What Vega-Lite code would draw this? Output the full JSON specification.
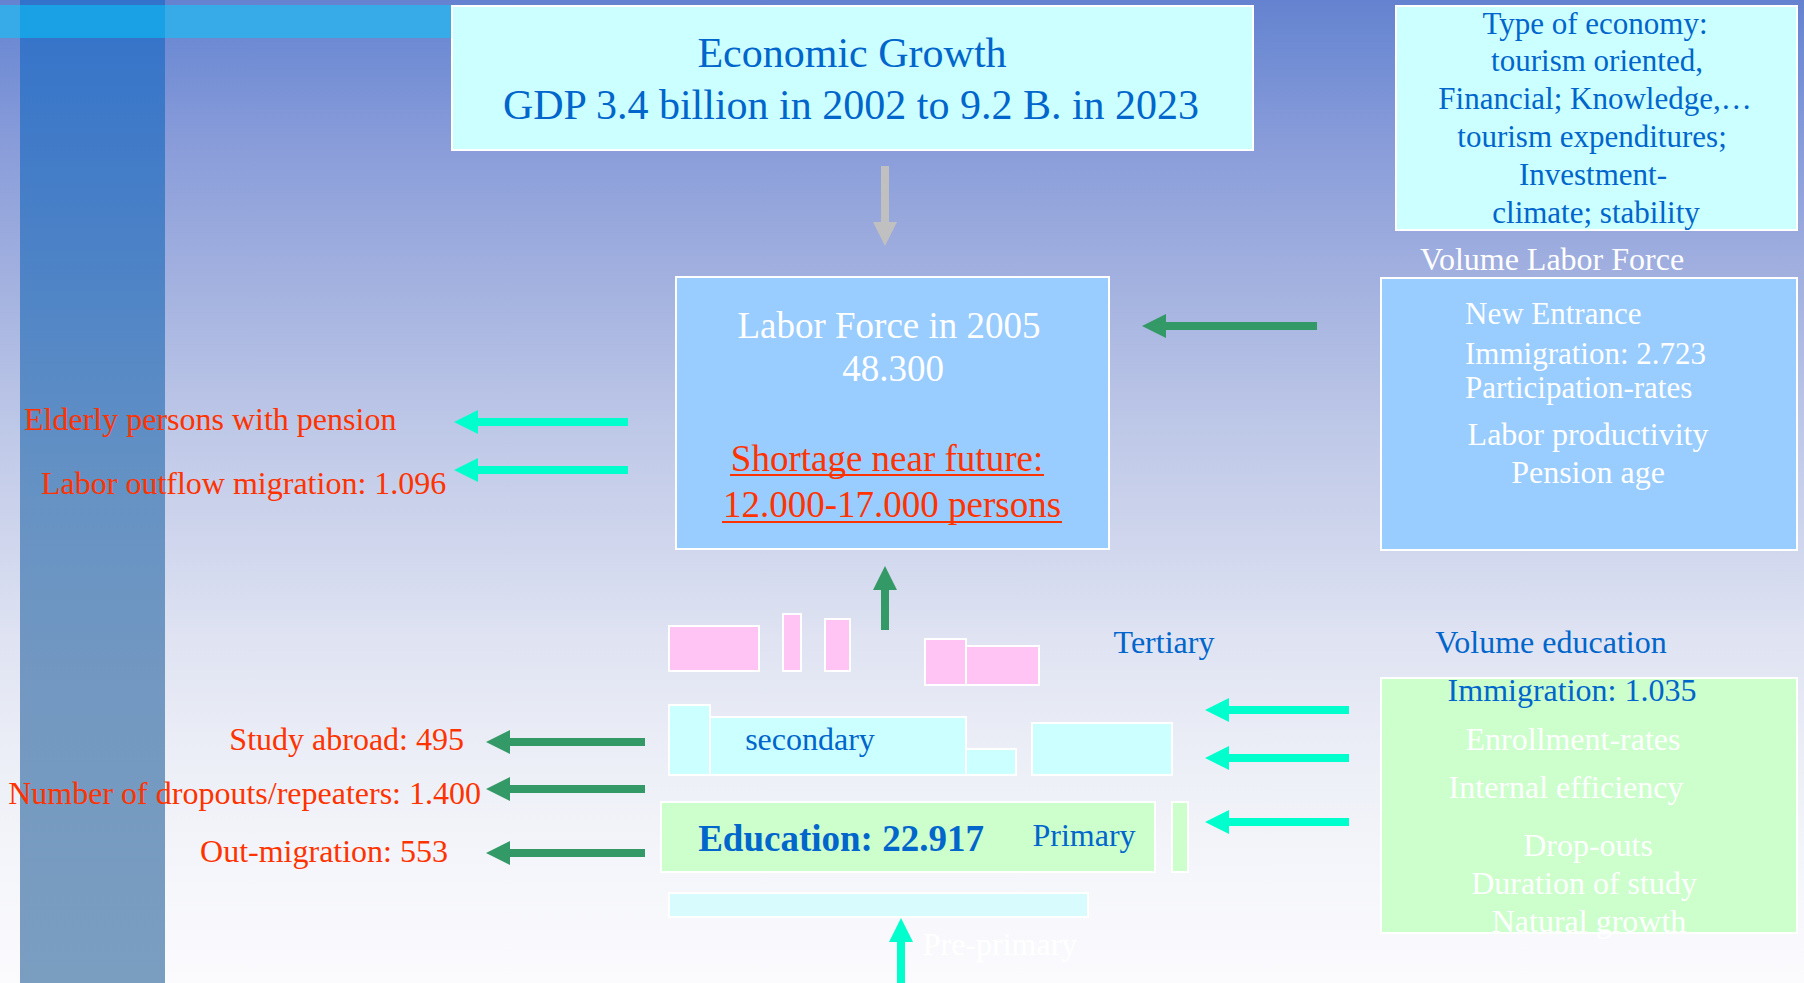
{
  "$schema": "https://vega.github.io/schema/vega-lite/v6.json",
  "width": 1804,
  "height": 983,
  "autosize": "none",
  "padding": 0,
  "background": "#ffffff",
  "config": {"view": {"stroke": null}},
  "datasets": {
    "bg": [{"x": 0, "x2": 1804, "y": 0, "y2": 983}],
    "column": [{"x": 20, "x2": 165, "y": 0, "y2": 983}],
    "band": [{"x": 0, "x2": 452, "y": 5, "y2": 38}],
    "bandcol": [{"x": 20, "x2": 165, "y": 5, "y2": 38}],
    "boxes": [
      {"x": 452, "x2": 1253, "y": 6, "y2": 150, "kind": "cyan"},
      {"x": 1396, "x2": 1797, "y": 6, "y2": 230, "kind": "cyan"},
      {"x": 676, "x2": 1109, "y": 277, "y2": 549, "kind": "blue"},
      {"x": 1381, "x2": 1797, "y": 278, "y2": 550, "kind": "blue"},
      {"x": 669, "x2": 759, "y": 626, "y2": 671, "kind": "pink"},
      {"x": 783, "x2": 801, "y": 614, "y2": 671, "kind": "pink"},
      {"x": 825, "x2": 850, "y": 619, "y2": 671, "kind": "pink"},
      {"x": 925, "x2": 966, "y": 639, "y2": 685, "kind": "pink"},
      {"x": 966, "x2": 1039, "y": 646, "y2": 685, "kind": "pink"},
      {"x": 669, "x2": 710, "y": 705, "y2": 775, "kind": "cyan"},
      {"x": 710, "x2": 966, "y": 717, "y2": 775, "kind": "cyan"},
      {"x": 966, "x2": 1016, "y": 749, "y2": 775, "kind": "cyan"},
      {"x": 1032, "x2": 1172, "y": 723, "y2": 775, "kind": "cyan"},
      {"x": 661, "x2": 1155, "y": 802, "y2": 872, "kind": "green"},
      {"x": 1172, "x2": 1188, "y": 802, "y2": 872, "kind": "green"},
      {"x": 669, "x2": 1088, "y": 893, "y2": 917, "kind": "pale"},
      {"x": 1381, "x2": 1797, "y": 678, "y2": 933, "kind": "green"}
    ],
    "harrows": [
      {"x": 1317, "x2": 1166, "y": 326, "c": "green"},
      {"x": 628, "x2": 478, "y": 422, "c": "cyan"},
      {"x": 628, "x2": 478, "y": 470, "c": "cyan"},
      {"x": 645, "x2": 510, "y": 742, "c": "green"},
      {"x": 645, "x2": 510, "y": 789, "c": "green"},
      {"x": 645, "x2": 510, "y": 853, "c": "green"},
      {"x": 1349, "x2": 1229, "y": 710, "c": "cyan"},
      {"x": 1349, "x2": 1229, "y": 758, "c": "cyan"},
      {"x": 1349, "x2": 1229, "y": 822, "c": "cyan"}
    ],
    "uarrows": [
      {"x": 885, "y": 630, "y2": 590, "c": "green"},
      {"x": 901, "y": 983, "y2": 942, "c": "cyan"}
    ],
    "darrows": [
      {"x": 885, "y": 166, "y2": 222, "c": "gray"}
    ],
    "underlines": [
      {"x": 730, "x2": 1044, "y": 475},
      {"x": 722, "x2": 1062, "y": 522}
    ],
    "texts": [
      {"text": "Economic Growth", "x": 852, "y": 54, "role": "title"},
      {"text": "GDP 3.4 billion in 2002 to 9.2 B. in 2023", "x": 851, "y": 106, "role": "title"},
      {"text": "Type of economy:", "x": 1595, "y": 25, "role": "econ"},
      {"text": "tourism oriented,", "x": 1597, "y": 62, "role": "econ"},
      {"text": "Financial; Knowledge,…", "x": 1595, "y": 100, "role": "econ"},
      {"text": "tourism expenditures;", "x": 1592, "y": 138, "role": "econ"},
      {"text": "Investment-", "x": 1593, "y": 176, "role": "econ"},
      {"text": "climate; stability", "x": 1596, "y": 214, "role": "econ"},
      {"text": "Volume Labor Force", "x": 1552, "y": 260, "role": "whiteC"},
      {"text": "Labor productivity", "x": 1588, "y": 435, "role": "whiteC"},
      {"text": "Pension age", "x": 1588, "y": 473, "role": "whiteC"},
      {"text": "Enrollment-rates", "x": 1573, "y": 740, "role": "whiteC"},
      {"text": "Internal efficiency", "x": 1566, "y": 788, "role": "whiteC"},
      {"text": "Drop-outs", "x": 1588, "y": 846, "role": "whiteC"},
      {"text": "Duration of study", "x": 1584, "y": 884, "role": "whiteC"},
      {"text": "Natural growth", "x": 1589, "y": 922, "role": "whiteC"},
      {"text": "Pre-primary", "x": 1000, "y": 945, "role": "whiteC"},
      {"text": "New Entrance", "x": 1465, "y": 315, "role": "whiteL"},
      {"text": "Immigration: 2.723", "x": 1465, "y": 355, "role": "whiteL"},
      {"text": "Participation-rates", "x": 1465, "y": 389, "role": "whiteL"},
      {"text": "Labor Force in 2005", "x": 889, "y": 327, "role": "lf"},
      {"text": "48.300", "x": 893, "y": 370, "role": "lf"},
      {"text": "Shortage near future:", "x": 887, "y": 460, "role": "short"},
      {"text": "12.000-17.000 persons", "x": 892, "y": 506, "role": "short"},
      {"text": "Elderly persons with pension", "x": 24, "y": 420, "role": "redL"},
      {"text": "Labor outflow migration: 1.096", "x": 41, "y": 484, "role": "redL"},
      {"text": "Study abroad: 495", "x": 464, "y": 740, "role": "redR"},
      {"text": "Number of dropouts/repeaters: 1.400", "x": 481, "y": 794, "role": "redR"},
      {"text": "Out-migration: 553", "x": 448, "y": 852, "role": "redR"},
      {"text": "secondary", "x": 810, "y": 740, "role": "blueC"},
      {"text": "Tertiary", "x": 1164, "y": 643, "role": "blueC"},
      {"text": "Primary", "x": 1084, "y": 836, "role": "blueC"},
      {"text": "Volume education", "x": 1551, "y": 643, "role": "blueC"},
      {"text": "Immigration: 1.035", "x": 1572, "y": 691, "role": "blueC"},
      {"text": "Education: 22.917", "x": 841, "y": 840, "role": "edu"}
    ]
  },
  "encoding": {
    "x": {"field": "x", "type": "quantitative", "scale": {"domain": [0, 1804], "nice": false, "zero": false}, "axis": null},
    "y": {"field": "y", "type": "quantitative", "scale": {"domain": [0, 983], "reverse": true, "nice": false, "zero": false}, "axis": null}
  },
  "layer": [
    {
      "data": {"name": "bg"},
      "mark": {"type": "rect", "fill": {"gradient": "linear", "x1": 0, "y1": 0, "x2": 0, "y2": 1, "stops": [
        {"offset": 0, "color": "#6482cf"},
        {"offset": 0.04, "color": "#6d8ad3"},
        {"offset": 0.15, "color": "#8a9dda"},
        {"offset": 0.3, "color": "#a5b3e0"},
        {"offset": 0.43, "color": "#bdc7e7"},
        {"offset": 0.55, "color": "#cfd6ed"},
        {"offset": 0.65, "color": "#dfe3f2"},
        {"offset": 0.75, "color": "#eaedf6"},
        {"offset": 0.87, "color": "#f4f5fa"},
        {"offset": 1, "color": "#fbfbfe"}
      ]}},
      "encoding": {"x2": {"field": "x2"}, "y2": {"field": "y2"}}
    },
    {
      "data": {"name": "column"},
      "mark": {"type": "rect", "fill": {"gradient": "linear", "x1": 0, "y1": 0, "x2": 0, "y2": 1, "stops": [
        {"offset": 0, "color": "#3372ca"},
        {"offset": 0.3, "color": "#5085c6"},
        {"offset": 0.5, "color": "#6592c4"},
        {"offset": 0.7, "color": "#7398c1"},
        {"offset": 1, "color": "#7a9ec0"}
      ]}},
      "encoding": {"x2": {"field": "x2"}, "y2": {"field": "y2"}}
    },
    {
      "data": {"name": "band"},
      "mark": {"type": "rect", "fill": "#37aae8"},
      "encoding": {"x2": {"field": "x2"}, "y2": {"field": "y2"}}
    },
    {
      "data": {"name": "bandcol"},
      "mark": {"type": "rect", "fill": "#1aa0e4"},
      "encoding": {"x2": {"field": "x2"}, "y2": {"field": "y2"}}
    },
    {
      "data": {"name": "boxes"},
      "mark": {"type": "rect", "stroke": "#ffffff", "strokeWidth": 2},
      "encoding": {
        "x2": {"field": "x2"}, "y2": {"field": "y2"},
        "fill": {"field": "kind", "type": "nominal", "scale": {"domain": ["cyan", "blue", "pink", "green", "pale"], "range": ["#ccffff", "#99ccff", "#ffc4f4", "#ccffcc", "#d8fbfd"]}, "legend": null}
      }
    },
    {
      "data": {"name": "harrows"},
      "mark": {"type": "rule", "strokeWidth": 8},
      "encoding": {
        "x2": {"field": "x2"},
        "color": {"field": "c", "type": "nominal", "scale": {"domain": ["cyan", "green", "gray"], "range": ["#00ffcc", "#339966", "#c0c0c0"]}, "legend": null}
      }
    },
    {
      "data": {"name": "harrows"},
      "mark": {"type": "point", "shape": "M0,-1L0,1L-2,0Z", "size": 576, "filled": true, "opacity": 1, "strokeWidth": 0},
      "encoding": {
        "x": {"field": "x2", "type": "quantitative"},
        "color": {"field": "c", "type": "nominal", "legend": null}
      }
    },
    {
      "data": {"name": "uarrows"},
      "mark": {"type": "rule", "strokeWidth": 8},
      "encoding": {
        "y2": {"field": "y2"},
        "color": {"field": "c", "type": "nominal", "legend": null}
      }
    },
    {
      "data": {"name": "uarrows"},
      "mark": {"type": "point", "shape": "M-1,0L1,0L0,-2Z", "size": 576, "filled": true, "opacity": 1, "strokeWidth": 0},
      "encoding": {
        "y": {"field": "y2", "type": "quantitative"},
        "color": {"field": "c", "type": "nominal", "legend": null}
      }
    },
    {
      "data": {"name": "darrows"},
      "mark": {"type": "rule", "strokeWidth": 8},
      "encoding": {
        "y2": {"field": "y2"},
        "color": {"field": "c", "type": "nominal", "legend": null}
      }
    },
    {
      "data": {"name": "darrows"},
      "mark": {"type": "point", "shape": "M-1,0L1,0L0,2Z", "size": 576, "filled": true, "opacity": 1, "strokeWidth": 0},
      "encoding": {
        "y": {"field": "y2", "type": "quantitative"},
        "color": {"field": "c", "type": "nominal", "legend": null}
      }
    },
    {
      "data": {"name": "underlines"},
      "mark": {"type": "rule", "strokeWidth": 2, "color": "#ff3300"},
      "encoding": {"x2": {"field": "x2"}}
    },
    {
      "data": {"name": "texts"},
      "transform": [{"filter": "datum.role === 'title'"}],
      "mark": {"type": "text", "font": "Liberation Serif", "fontSize": 42, "color": "#0066cc", "align": "center", "baseline": "middle"},
      "encoding": {"text": {"field": "text"}}
    },
    {
      "data": {"name": "texts"},
      "transform": [{"filter": "datum.role === 'econ'"}],
      "mark": {"type": "text", "font": "Liberation Serif", "fontSize": 31, "color": "#0066cc", "align": "center", "baseline": "middle"},
      "encoding": {"text": {"field": "text"}}
    },
    {
      "data": {"name": "texts"},
      "transform": [{"filter": "datum.role === 'whiteC'"}],
      "mark": {"type": "text", "font": "Liberation Serif", "fontSize": 32, "color": "#ffffff", "align": "center", "baseline": "middle"},
      "encoding": {"text": {"field": "text"}}
    },
    {
      "data": {"name": "texts"},
      "transform": [{"filter": "datum.role === 'whiteL'"}],
      "mark": {"type": "text", "font": "Liberation Serif", "fontSize": 31, "color": "#ffffff", "align": "left", "baseline": "middle"},
      "encoding": {"text": {"field": "text"}}
    },
    {
      "data": {"name": "texts"},
      "transform": [{"filter": "datum.role === 'lf'"}],
      "mark": {"type": "text", "font": "Liberation Serif", "fontSize": 37, "color": "#ffffff", "align": "center", "baseline": "middle"},
      "encoding": {"text": {"field": "text"}}
    },
    {
      "data": {"name": "texts"},
      "transform": [{"filter": "datum.role === 'short'"}],
      "mark": {"type": "text", "font": "Liberation Serif", "fontSize": 37, "color": "#ff3300", "align": "center", "baseline": "middle"},
      "encoding": {"text": {"field": "text"}}
    },
    {
      "data": {"name": "texts"},
      "transform": [{"filter": "datum.role === 'redL'"}],
      "mark": {"type": "text", "font": "Liberation Serif", "fontSize": 32, "color": "#ff3300", "align": "left", "baseline": "middle"},
      "encoding": {"text": {"field": "text"}}
    },
    {
      "data": {"name": "texts"},
      "transform": [{"filter": "datum.role === 'redR'"}],
      "mark": {"type": "text", "font": "Liberation Serif", "fontSize": 32, "color": "#ff3300", "align": "right", "baseline": "middle"},
      "encoding": {"text": {"field": "text"}}
    },
    {
      "data": {"name": "texts"},
      "transform": [{"filter": "datum.role === 'blueC'"}],
      "mark": {"type": "text", "font": "Liberation Serif", "fontSize": 32, "color": "#0066cc", "align": "center", "baseline": "middle"},
      "encoding": {"text": {"field": "text"}}
    },
    {
      "data": {"name": "texts"},
      "transform": [{"filter": "datum.role === 'edu'"}],
      "mark": {"type": "text", "font": "Liberation Serif", "fontSize": 37, "fontWeight": "bold", "color": "#0066cc", "align": "center", "baseline": "middle"},
      "encoding": {"text": {"field": "text"}}
    }
  ]
}
